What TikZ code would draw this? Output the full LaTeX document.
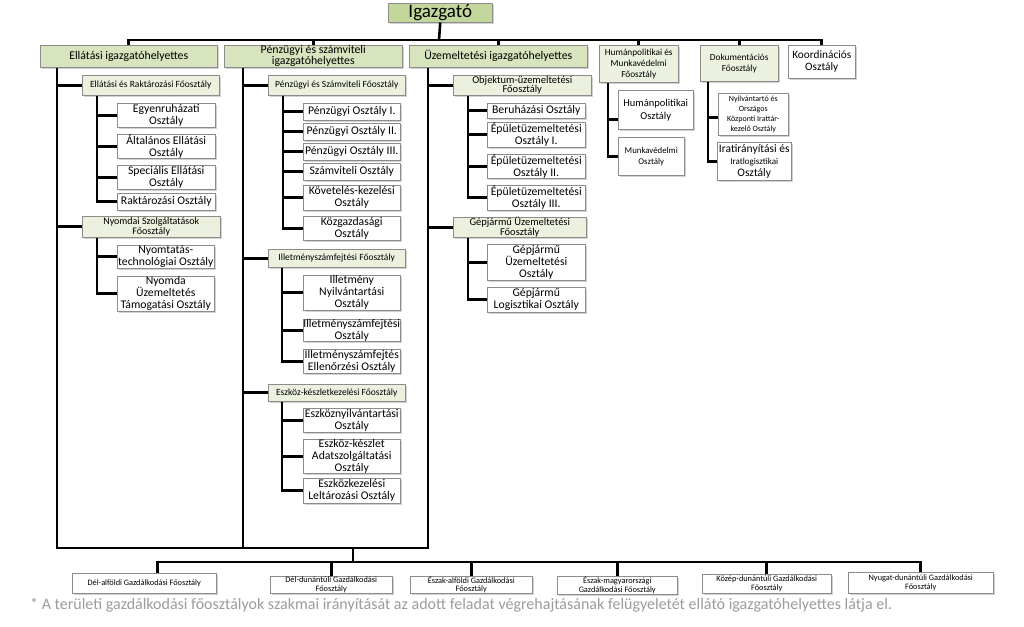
\documentclass[tikz,border=0pt]{standalone}
\usepackage{fontspec}
\setmainfont{Carlito}
\usetikzlibrary{shadows}
\definecolor{dirg}{HTML}{C3D69B}
\definecolor{depg}{HTML}{D7E4BD}
\definecolor{fog}{HTML}{EBF1DE}
\definecolor{bord}{HTML}{8C8C8C}
\definecolor{notec}{HTML}{9C9C9C}
\begin{document}
\begin{tikzpicture}[x=1pt,y=-1pt,
 boxbase/.style={draw=bord, line width=0.5pt, anchor=north west, align=center, inner sep=0pt,
   drop shadow={shadow xshift=1.3pt, shadow yshift=-1.3pt, fill=black!35}},
 dirbox/.style={boxbase, fill=dirg, font=\fontsize{19}{19}\selectfont},
 depbox/.style={boxbase, fill=depg, font=\fontsize{11.8}{11}\selectfont},
 fobox/.style={boxbase, fill=fog, font=\fontsize{9.5}{9.5}\selectfont},
 fobig/.style={fobox, font=\fontsize{10.5}{9.5}\selectfont},
 osbox/.style={boxbase, fill=white, font=\fontsize{11.7}{12}\selectfont},
 regbox/.style={boxbase, fill=white, font=\fontsize{8.3}{8.5}\selectfont},
 conn/.style={draw=black, line width=2.6pt},
]
\fill[white] (0,0) rectangle (1024,626);
\useasboundingbox (0,0) rectangle (1024,626);

% top
\node[dirbox, minimum width=104, minimum height=19] (ig) at (388,3) {Igazgató};
\node[depbox, minimum width=177, minimum height=22] (ell) at (40,45) {Ellátási igazgatóhelyettes};
\node[depbox, minimum width=178, minimum height=22] (pen) at (224,45) {Pénzügyi és számviteli\\igazgatóhelyettes};
\node[depbox, minimum width=178, minimum height=22] (uz) at (409,45) {Üzemeltetési igazgatóhelyettes};
\node[fobox, minimum width=79, minimum height=37, font=\fontsize{9.3}{11}\selectfont] (hum) at (599,45) {Humánpolitikai és\\Munkavédelmi\\Főosztály};
\node[fobox, minimum width=78, minimum height=36, font=\fontsize{9.3}{11}\selectfont] (dok) at (700,45) {Dokumentációs\\Főosztály};
\node[osbox, minimum width=67, minimum height=33, font=\fontsize{11.3}{12}\selectfont] (koo) at (788,45) {Koordinációs\\Osztály};

% Ellatasi column
\node[fobox, minimum width=137, minimum height=20] (erf) at (82,75) {Ellátási és Raktározási Főosztály};
\node[osbox, minimum width=98, minimum height=24] (e1) at (117,103) {Egyenruházati\\Osztály};
\node[osbox, minimum width=98, minimum height=24] (e2) at (117,134) {Általános Ellátási\\Osztály};
\node[osbox, minimum width=98, minimum height=24] (e3) at (117,165) {Speciális Ellátási\\Osztály};
\node[osbox, minimum width=98, minimum height=17] (e4) at (117,193) {Raktározási Osztály};
\node[fobig, minimum width=138, minimum height=21, font=\fontsize{10}{9.5}\selectfont] (nyf) at (82,216) {Nyomdai Szolgáltatások\\Főosztály};
\node[osbox, minimum width=97, minimum height=23] (n1) at (117,245) {Nyomtatás-\\technológiai Osztály};
\node[osbox, minimum width=97, minimum height=35] (n2) at (117,276) {Nyomda\\Üzemeltetés\\Támogatási Osztály};

% Penzugyi column
\node[fobox, minimum width=137, minimum height=20] (psf) at (268,75) {Pénzügyi és Számviteli Főosztály};
\node[osbox, minimum width=97, minimum height=17] (p1) at (303,103) {Pénzügyi Osztály I.};
\node[osbox, minimum width=97, minimum height=17] (p2) at (303,123) {Pénzügyi Osztály II.};
\node[osbox, minimum width=97, minimum height=17] (p3) at (303,143) {Pénzügyi Osztály III.};
\node[osbox, minimum width=97, minimum height=17] (p4) at (303,163) {Számviteli Osztály};
\node[osbox, minimum width=97, minimum height=25] (p5) at (303,185) {Követelés-kezelési\\Osztály};
\node[osbox, minimum width=97, minimum height=24] (p6) at (303,216) {Közgazdasági\\Osztály};
\node[fobox, minimum width=137, minimum height=18] (ilf) at (268,249) {Illetményszámfejtési Főosztály};
\node[osbox, minimum width=97, minimum height=35] (i1) at (303,275) {Illetmény\\Nyilvántartási\\Osztály};
\node[osbox, minimum width=97, minimum height=22] (i2) at (303,319) {Illetményszámfejtési\\Osztály};
\node[osbox, minimum width=97, minimum height=24] (i3) at (303,349) {Illetményszámfejtés\\Ellenőrzési Osztály};
\node[fobox, minimum width=137, minimum height=17] (esf) at (268,384) {Eszköz-készletkezelési Főosztály};
\node[osbox, minimum width=97, minimum height=24] (s1) at (303,408) {Eszköznyilvántartási\\Osztály};
\node[osbox, minimum width=97, minimum height=32] (s2) at (303,439) {Eszköz-készlet\\Adatszolgáltatási\\Osztály};
\node[osbox, minimum width=97, minimum height=25] (s3) at (303,478) {Eszközkezelési\\Leltározási Osztály};

% Uzemeltetesi column
\node[fobig, minimum width=138, minimum height=20] (obf) at (453,75) {Objektum-üzemeltetési\\Főosztály};
\node[osbox, minimum width=98, minimum height=15] (o1) at (487,103) {Beruházási Osztály};
\node[osbox, minimum width=98, minimum height=25] (o2) at (487,122) {Épületüzemeltetési\\Osztály I.};
\node[osbox, minimum width=98, minimum height=24] (o3) at (487,154) {Épületüzemeltetési\\Osztály II.};
\node[osbox, minimum width=98, minimum height=25] (o4) at (487,185) {Épületüzemeltetési\\Osztály III.};
\node[fobig, minimum width=133, minimum height=20] (gjf) at (453,217) {Gépjármű Üzemeltetési\\Főosztály};
\node[osbox, minimum width=98, minimum height=36] (g1) at (487,244) {Gépjármű\\Üzemeltetési\\Osztály};
\node[osbox, minimum width=98, minimum height=25] (g2) at (487,287) {Gépjármű\\Logisztikai Osztály};

% Human & Dok
\node[osbox, minimum width=75, minimum height=39, font=\fontsize{10.5}{13}\selectfont] (h1) at (618,90) {Humánpolitikai\\Osztály};
\node[osbox, minimum width=66, minimum height=38, font=\fontsize{8.8}{11}\selectfont] (h2) at (618,137) {Munkavédelmi\\Osztály};
\node[osbox, minimum width=70, minimum height=42, font=\fontsize{8}{10}\selectfont] (d1) at (718,93) {Nyilvántartó és\\Országos\\Központi Irattár-\\kezelő Osztály};
\node[osbox, minimum width=74, minimum height=38, font=\fontsize{11.5}{12}\selectfont] (d2) at (717,142) {Iratirányítási és\\{\fontsize{9}{12}\selectfont Iratlogisztikai}\\Osztály};

% regional
\node[regbox, minimum width=144, minimum height=20] (r1) at (72,573) {Dél-alföldi Gazdálkodási Főosztály};
\node[regbox, minimum width=122, minimum height=17] (r2) at (270,576) {Dél-dunántúli Gazdálkodási\\Főosztály};
\node[regbox, minimum width=122, minimum height=17] (r3) at (410,576) {Észak-alföldi Gazdálkodási\\Főosztály};
\node[regbox, minimum width=120, minimum height=18] (r4) at (557,576) {Észak-magyarországi\\Gazdálkodási Főosztály};
\node[regbox, minimum width=129, minimum height=19] (r5) at (702,574) {Közép-dunántúli Gazdálkodási\\Főosztály};
\node[regbox, minimum width=145, minimum height=21] (r6) at (848,572) {Nyugat-dunántúli Gazdálkodási\\Főosztály};

\node[anchor=west, inner sep=0, text=notec, font=\fontsize{16}{18}\selectfont] (fn) at (30,605)
 {* A területi gazdálkodási főosztályok szakmai irányítását az adott feladat végrehajtásának felügyeletét ellátó igazgatóhelyettes látja el.};

% bus coordinates
\coordinate (tbus) at (439,40);
\coordinate (jbus) at (353,548);
\coordinate (rbus) at (353,562);

% connectors
\draw[conn] (ig.south) -- (tbus);
\foreach \n in {ell,pen,uz,hum,dok,koo} \draw[conn] (tbus) -| (\n.north);

\foreach \n in {erf,nyf,jbus} \draw[conn] ([xshift=17pt]ell.south west) |- (\n);
\foreach \n in {e1,e2,e3,e4} \draw[conn] ([xshift=15pt]erf.south west) |- (\n.west);
\foreach \n in {n1,n2} \draw[conn] ([xshift=15pt]nyf.south west) |- (\n.west);

\foreach \n in {psf,ilf,esf} \draw[conn] ([xshift=19pt]pen.south west) |- (\n.west);
\draw[conn] ([xshift=19pt]pen.south west) |- (jbus);
\foreach \n in {p1,p2,p3,p4,p5,p6} \draw[conn] ([xshift=15pt]psf.south west) |- (\n.west);
\foreach \n in {i1,i2,i3} \draw[conn] ([xshift=14pt]ilf.south west) |- (\n.west);
\foreach \n in {s1,s2,s3} \draw[conn] ([xshift=14pt]esf.south west) |- (\n.west);

\foreach \n in {obf,gjf} \draw[conn] ([xshift=19pt]uz.south west) |- (\n.west);
\draw[conn] ([xshift=19pt]uz.south west) |- (jbus);
\foreach \n in {o1,o2,o3,o4} \draw[conn] ([xshift=15pt]obf.south west) |- (\n.west);
\foreach \n in {g1,g2} \draw[conn] ([xshift=15pt]gjf.south west) |- (\n.west);

\draw[conn] ([xshift=9pt]hum.south west) |- ([yshift=-10pt]h1.west);
\draw[conn] ([xshift=9pt]hum.south west) |- (h2.west);
\draw[conn] ([xshift=8pt]dok.south west) |- ([yshift=-3pt]d1.west);
\draw[conn] ([xshift=8pt]dok.south west) |- (d2.west);

\draw[conn] (jbus) -- (rbus);
\draw[conn] (rbus) -| ([xshift=13pt]r1.north);
\foreach \n in {r2,r3,r4,r5,r6} \draw[conn] (rbus) -| (\n.north);
\end{tikzpicture}
\end{document}
